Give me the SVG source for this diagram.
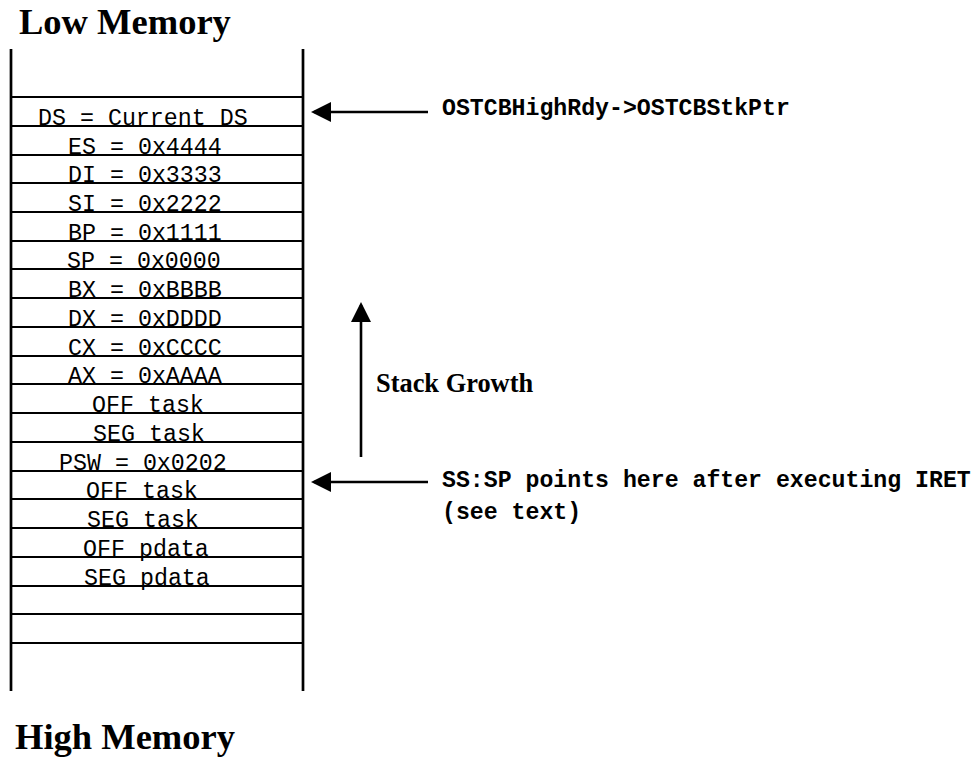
<svg xmlns="http://www.w3.org/2000/svg" width="978" height="757" viewBox="0 0 978 757">
<style>
.title{font-family:"Liberation Serif","Times New Roman",serif;font-weight:bold;font-size:36.5px;fill:#000}
.growth{font-family:"Liberation Serif","Times New Roman",serif;font-weight:bold;font-size:26.4px;fill:#000}
.cell{font-family:"Liberation Mono","Courier New",monospace;font-size:23.3px;fill:#000}
.note{font-family:"Liberation Mono","Courier New",monospace;font-weight:bold;font-size:23.2px;fill:#000}
.wall{stroke:#000;stroke-width:2.7;fill:none}
.sep{stroke:#000;stroke-width:2;fill:none}
.arrow{stroke:#000;stroke-width:2.6;fill:none;marker-end:url(#head)}
</style>
<defs>
<marker id="head" markerUnits="userSpaceOnUse" viewBox="0 0 20 20" markerWidth="20" markerHeight="20" refX="17" refY="10" orient="auto">
<polygon points="0,0 20,10 0,20" fill="#000"/>
</marker>
</defs>
<rect width="978" height="757" fill="#fff"/>
<text class="title" x="19" y="34">Low Memory</text>
<text class="title" x="15" y="749">High Memory</text>
<g id="stack">
<line class="wall" x1="11" y1="49" x2="11" y2="691"/>
<line class="wall" x1="303" y1="49" x2="303" y2="691"/>
<path class="sep" d="M11 97H303M11 126H303M11 155H303M11 183H303M11 212H303M11 241H303M11 269H303M11 298H303M11 327H303M11 356H303M11 384H303M11 413H303M11 442H303M11 471H303M11 499H303M11 528H303M11 557H303M11 586H303M11 614H303M11 643H303"/>
</g>
<g id="cells">
<text class="cell" x="38" y="124.5">DS = Current DS</text>
<text class="cell" x="68" y="153.5">ES = 0x4444</text>
<text class="cell" x="68" y="181.5">DI = 0x3333</text>
<text class="cell" x="68" y="210.5">SI = 0x2222</text>
<text class="cell" x="68" y="239.5">BP = 0x1111</text>
<text class="cell" x="67" y="267.5">SP = 0x0000</text>
<text class="cell" x="68" y="296.5">BX = 0xBBBB</text>
<text class="cell" x="68" y="325.5">DX = 0xDDDD</text>
<text class="cell" x="68" y="354.5">CX = 0xCCCC</text>
<text class="cell" x="68" y="382.5">AX = 0xAAAA</text>
<text class="cell" x="92" y="411.5">OFF task</text>
<text class="cell" x="93" y="440.5">SEG task</text>
<text class="cell" x="59" y="469.5">PSW = 0x0202</text>
<text class="cell" x="86" y="497.5">OFF task</text>
<text class="cell" x="87" y="526.5">SEG task</text>
<text class="cell" x="83" y="555.5">OFF pdata</text>
<text class="cell" x="84" y="584.5">SEG pdata</text>
</g>
<g id="connectors">
<line class="arrow" x1="428" y1="112" x2="314" y2="112"/>
<line class="arrow" x1="428" y1="482" x2="314" y2="482"/>
<line class="arrow" x1="361" y1="457" x2="361" y2="305"/>
</g>
<g id="labels">
<text class="note" x="442" y="115">OSTCBHighRdy-&gt;OSTCBStkPtr</text>
<text class="note" x="442" y="487">SS:SP points here after executing IRET</text>
<text class="note" x="442" y="519">(see text)</text>
<text class="growth" x="376" y="392">Stack Growth</text>
</g>
</svg>
